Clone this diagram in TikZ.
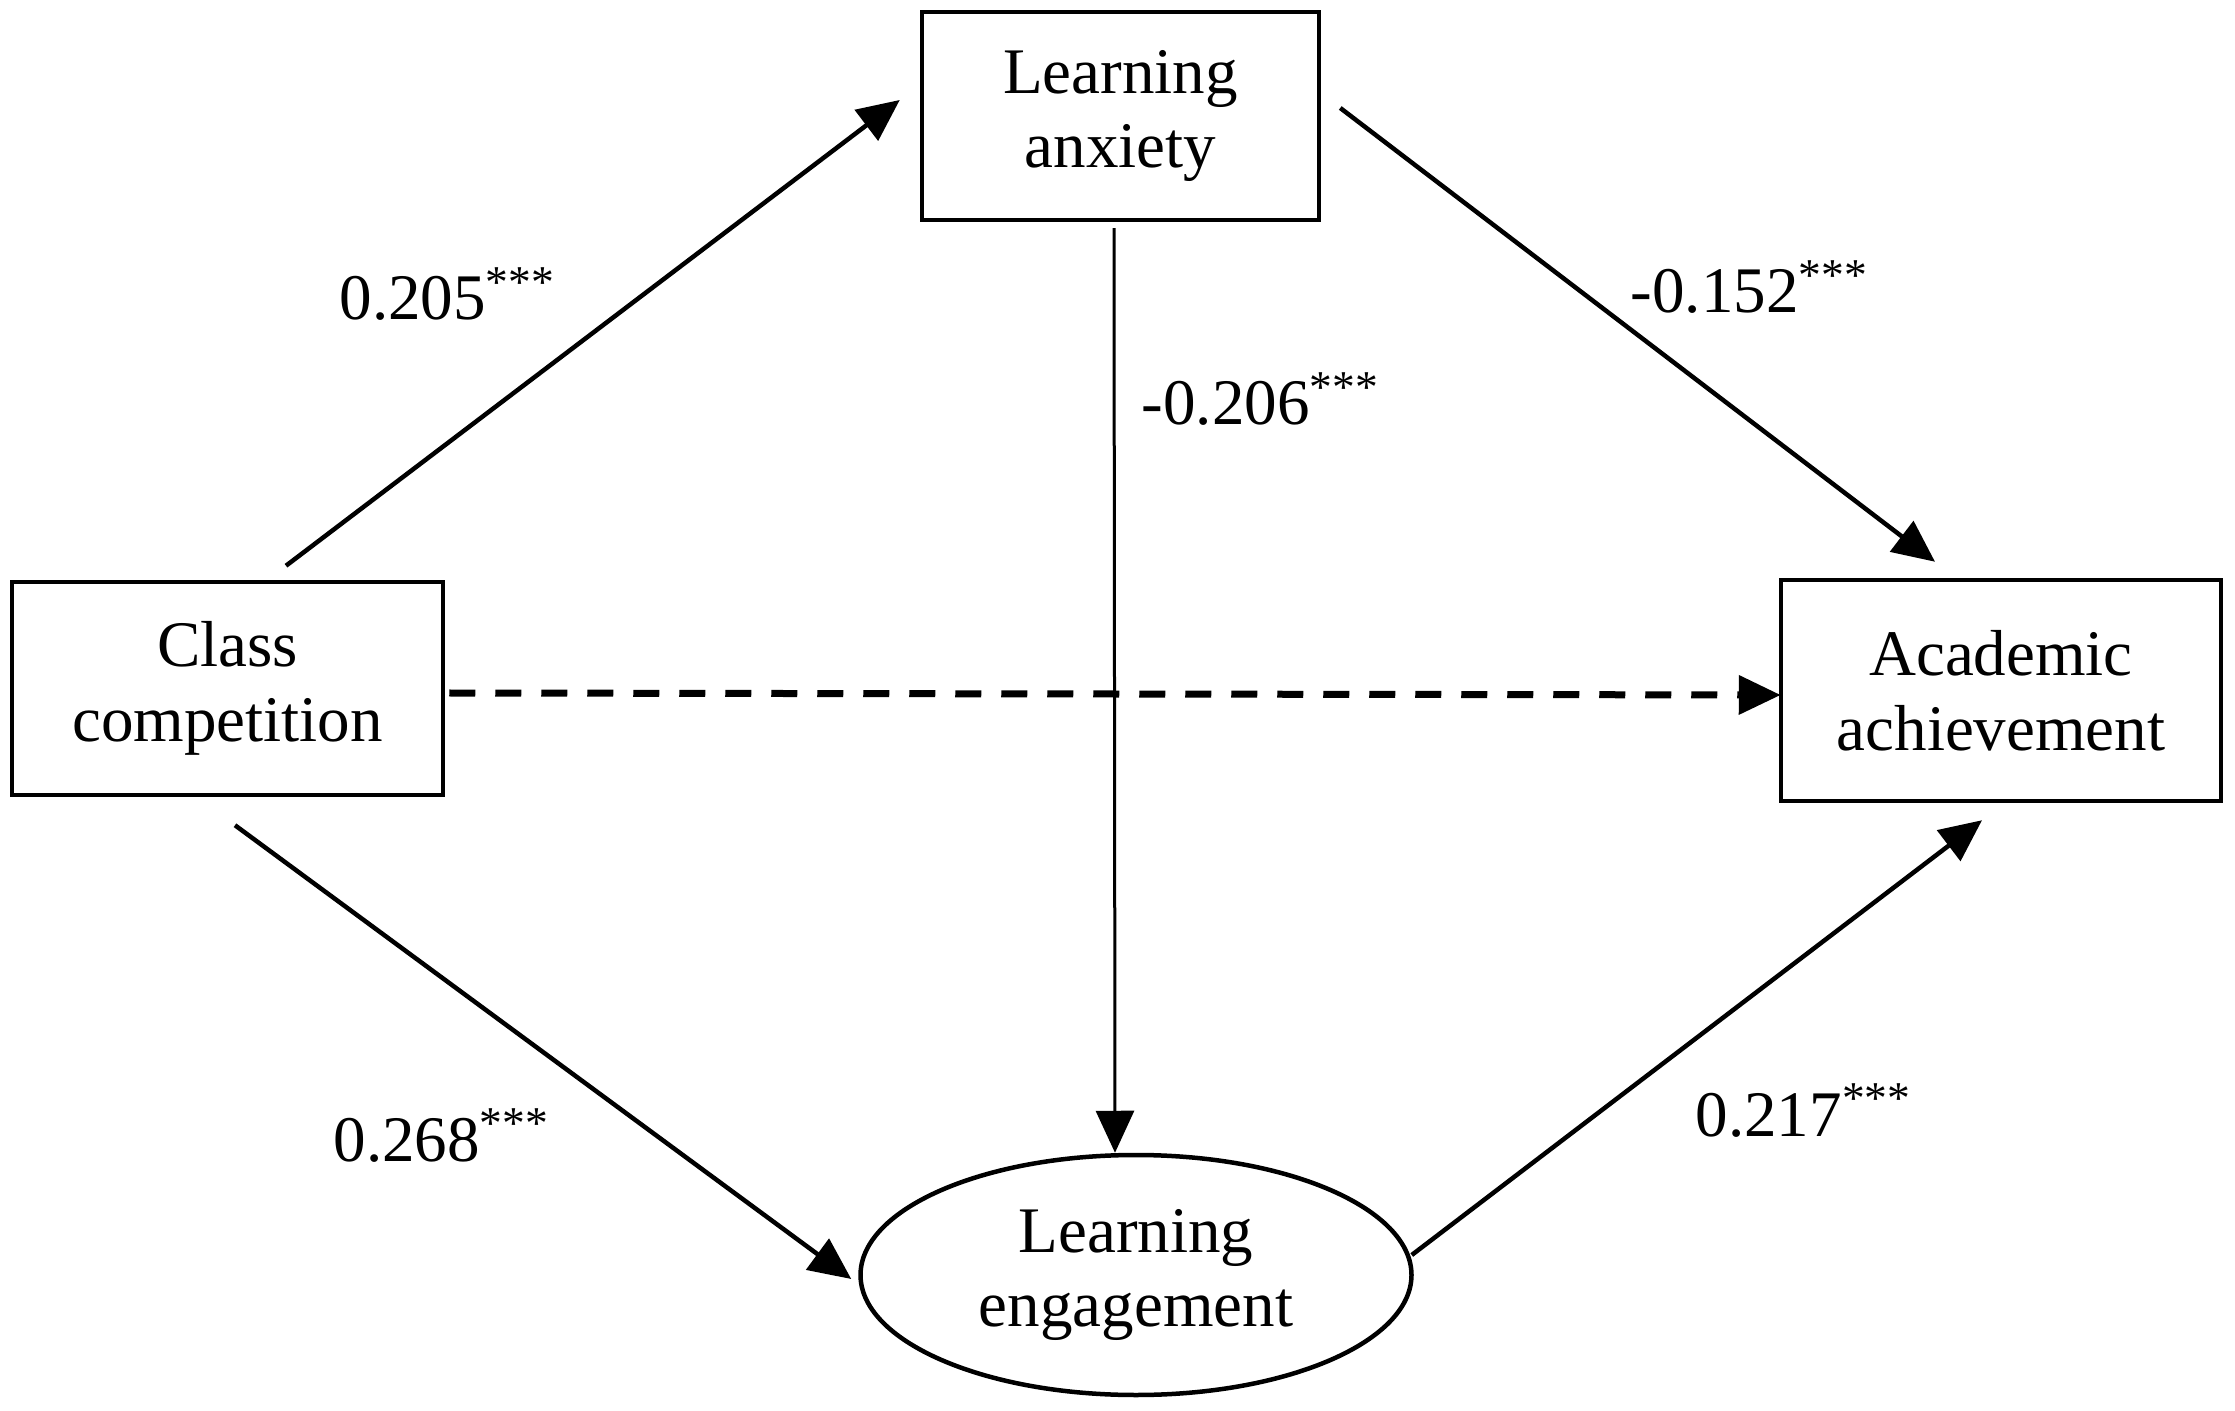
\documentclass[tikz,border=0pt]{standalone}
\usepackage{fontspec}
\setmainfont{Liberation Serif}
\usetikzlibrary{arrows.meta,shapes.geometric,calc}

\tikzset{
  var/.style={draw,line width=0.45mm,rectangle,align=center,inner sep=0pt,
    font=\fontsize{18.5}{21.3}\selectfont},
  lat/.style={var,ellipse},
  effect/.style={line width=0.45mm,-{Triangle[length=4.2mm,width=3.8mm]}},
  coef/.style={anchor=base west,inner sep=0pt,draw=none,
    font=\fontsize{18.5}{21.3}\selectfont},
}

\begin{document}
\begin{tikzpicture}[x=0.1mm,y=-0.1mm]
    \useasboundingbox (0,0) rectangle (2235,1411);

    \node[var,minimum width=43.1mm,minimum height=21.3mm] (cc) at (227.5,688.5) {Class\\competition};
    \node[var,minimum width=39.7mm,minimum height=20.8mm] (la) at (1120.5,116) {Learning\\anxiety};
    \node[var,minimum width=44mm,minimum height=22.1mm] (aa) at (2001,690.5) {Academic\\achievement};
    \node[lat,minimum width=55.1mm,minimum height=24mm] (le) at (1136,1275) {Learning\\engagement};

    \draw[effect] ($(cc.north)+(58.5,-14)$) -- ($(la.west)+(-20,-16)$);
    \draw[effect] ($(la.east)+(19,-8)$) -- ($(aa.north)+(-66,-16)$);
    \draw[effect,line width=0.3mm] ($(la.south)+(-6.5,6)$) -- ($(le.north)+(-21,0)$);
    \draw[effect] ($(cc.south)+(7.5,28)$) -- ($(le.west)+(-7,4)$);
    \draw[effect] ($(le.east)+(-2,-20)$) -- ($(aa.south)+(-19,17)$);
    \draw[effect,line width=0.7mm,dash pattern=on 2.6mm off 2mm] ($(cc.east)+(4,4.5)$) -- ($(aa.west)+(2,4.5)$);

    \node[coef] (ccla) at (339,320) {0.205\textsuperscript{***}};
    \node[coef] (lale) at (1141,425) {-0.206\textsuperscript{***}};
    \node[coef] (laaa) at (1630,313) {-0.152\textsuperscript{***}};
    \node[coef] (ccle) at (333,1161) {0.268\textsuperscript{***}};
    \node[coef] (leaa) at (1695,1136) {0.217\textsuperscript{***}};

\end{tikzpicture}
\end{document}
